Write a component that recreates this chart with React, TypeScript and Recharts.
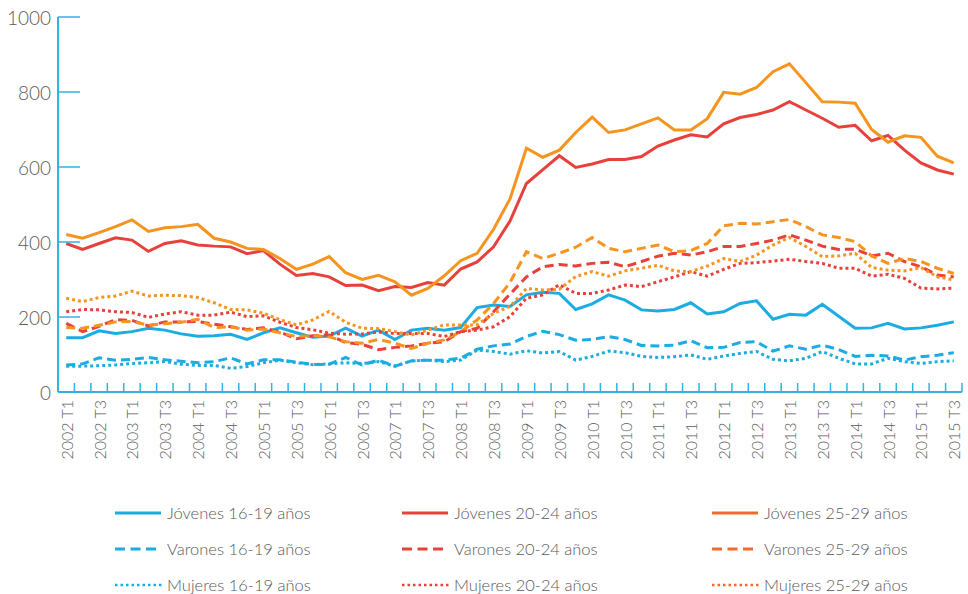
import React from 'react';
import { LineChart, Line, XAxis, YAxis } from 'recharts';

const CYAN = '#1aace3';
const RED = '#e8403a';
const ORANGE = '#f7941d';
const ORANGE_LEGEND = '#f26a2b';
const AXIS = '#33b0e4';
const TEXT = '#5a5a5a';
const FONT = "Lato, 'Open Sans', sans-serif";

const years = [2002, 2003, 2004, 2005, 2006, 2007, 2008, 2009, 2010, 2011, 2012, 2013, 2014, 2015];
const quarters = ['T1', 'T2', 'T3', 'T4'];
const periods = years.flatMap((y) => quarters.map((q) => `${y} ${q}`)).slice(0, 55);

const yTicks = [0, 200, 400, 600, 800, 1000];

const jovenes1619 = [145, 145, 163, 156, 161, 170, 165, 155, 149, 150, 154, 140, 158, 171, 158, 146, 149, 170, 149, 165, 140, 165, 170, 165, 172, 225, 232, 228, 259, 266, 263, 220, 235, 259, 245, 219, 216, 220, 238, 208, 214, 236, 243, 194, 207, 205, 234, 202, 170, 171, 183, 168, 171, 178, 187];
const jovenes2024 = [396, 380, 396, 411, 405, 375, 396, 403, 392, 389, 387, 369, 377, 341, 311, 316, 307, 284, 285, 270, 281, 279, 292, 285, 328, 347, 387, 456, 556, 593, 630, 599, 608, 620, 620, 628, 656, 672, 686, 680, 715, 732, 740, 752, 774, 752, 730, 706, 711, 670, 684, 645, 611, 592, 581];
const jovenes2529 = [420, 410, 425, 441, 459, 428, 438, 441, 447, 410, 400, 383, 380, 356, 327, 341, 361, 318, 300, 311, 294, 258, 276, 310, 350, 370, 434, 515, 650, 626, 645, 692, 733, 692, 699, 715, 731, 699, 699, 729, 799, 794, 812, 854, 875, 825, 774, 773, 770, 700, 666, 683, 679, 629, 611];
const varones1619 = [72, 75, 91, 85, 87, 92, 86, 82, 78, 81, 91, 75, 86, 86, 80, 73, 74, 92, 72, 85, 69, 83, 85, 85, 90, 114, 123, 128, 148, 162, 153, 138, 140, 148, 140, 124, 123, 125, 137, 118, 119, 132, 134, 109, 123, 114, 125, 113, 95, 98, 96, 85, 94, 98, 105];
const varones2024 = [183, 161, 175, 193, 191, 176, 187, 187, 188, 181, 174, 167, 171, 160, 142, 150, 152, 132, 127, 113, 119, 123, 130, 134, 161, 170, 214, 261, 307, 334, 340, 336, 343, 346, 334, 348, 362, 370, 365, 374, 388, 388, 396, 405, 419, 405, 389, 380, 381, 363, 370, 348, 334, 312, 307];
const varones2529 = [172, 170, 178, 187, 188, 178, 182, 186, 194, 172, 174, 165, 168, 158, 148, 151, 147, 134, 130, 140, 130, 116, 130, 139, 161, 192, 236, 292, 374, 356, 370, 386, 412, 383, 374, 383, 392, 374, 377, 396, 443, 450, 448, 454, 460, 441, 419, 412, 401, 363, 343, 356, 348, 330, 316];
const mujeres1619 = [69, 69, 70, 72, 76, 78, 81, 74, 71, 71, 63, 68, 78, 85, 78, 73, 75, 78, 76, 81, 69, 83, 85, 81, 85, 112, 108, 101, 110, 104, 108, 85, 95, 109, 105, 95, 92, 94, 99, 87, 96, 103, 108, 87, 83, 90, 108, 90, 75, 75, 90, 81, 76, 81, 83];
const mujeres2024 = [214, 220, 219, 214, 212, 199, 208, 214, 205, 205, 213, 201, 203, 186, 172, 166, 157, 154, 155, 160, 156, 156, 156, 148, 161, 165, 174, 201, 250, 259, 286, 263, 263, 272, 285, 281, 294, 307, 321, 309, 327, 343, 345, 349, 354, 348, 343, 330, 330, 309, 314, 303, 277, 275, 277];
const mujeres2529 = [250, 241, 252, 256, 269, 256, 258, 257, 252, 238, 220, 219, 210, 193, 179, 192, 215, 186, 170, 169, 161, 152, 165, 179, 179, 179, 210, 228, 276, 272, 274, 308, 321, 309, 323, 330, 338, 323, 321, 336, 356, 348, 365, 392, 412, 388, 361, 363, 370, 332, 325, 323, 332, 307, 299];

type Style = 'solid' | 'dashed' | 'dotted';
const series: { key: string; name: string; values: number[]; color: string; legendColor: string; style: Style }[] = [
  { key: 'j1619', name: 'Jóvenes 16-19 años', values: jovenes1619, color: CYAN, legendColor: CYAN, style: 'solid' },
  { key: 'j2024', name: 'Jóvenes 20-24 años', values: jovenes2024, color: RED, legendColor: RED, style: 'solid' },
  { key: 'j2529', name: 'Jóvenes 25-29 años', values: jovenes2529, color: ORANGE, legendColor: ORANGE_LEGEND, style: 'solid' },
  { key: 'v1619', name: 'Varones 16-19 años', values: varones1619, color: CYAN, legendColor: CYAN, style: 'dashed' },
  { key: 'v2024', name: 'Varones 20-24 años', values: varones2024, color: RED, legendColor: RED, style: 'dashed' },
  { key: 'v2529', name: 'Varones 25-29 años', values: varones2529, color: ORANGE, legendColor: ORANGE_LEGEND, style: 'dashed' },
  { key: 'm1619', name: 'Mujeres 16-19 años', values: mujeres1619, color: CYAN, legendColor: CYAN, style: 'dotted' },
  { key: 'm2024', name: 'Mujeres 20-24 años', values: mujeres2024, color: RED, legendColor: RED, style: 'dotted' },
  { key: 'm2529', name: 'Mujeres 25-29 años', values: mujeres2529, color: ORANGE, legendColor: ORANGE_LEGEND, style: 'dotted' },
];

const data = periods.map((p, i) => {
  const row: Record<string, number | string> = { idx: i, period: p };
  series.forEach((s) => {
    row[s.key] = s.values[i];
  });
  return row;
});

// tick marks sit on the boundaries between quarters
const boundaries = periods.map((_, i) => i - 0.5).concat([periods.length - 0.5]);

const W = 968;
const H = 594;
const MARGIN = { top: 17, right: 6, bottom: 0, left: 0 };
const Y_WIDTH = 58;
const PLOT_W = W - MARGIN.left - MARGIN.right - Y_WIDTH;
const HALF_BAND = PLOT_W / periods.length / 2;

const dashFor = (s: Style) => (s === 'dashed' ? '9 5' : s === 'dotted' ? '3 3' : undefined);

const XTick = (props: any) => {
  const { x, y, payload } = props;
  const k = payload.value + 0.5;
  const show = k % 2 === 0 && k < periods.length;
  return (
    <g>
      <line x1={x} x2={x} y1={y} y2={y - 9} stroke={AXIS} strokeWidth={1.5} />
      {show && (
        <text
          transform={`translate(${x + HALF_BAND},${y + 8}) rotate(-90)`}
          textAnchor="end"
          dominantBaseline="central"
          fontSize={16}
          fontFamily={FONT}
          fontWeight={300}
          fill={TEXT}
        >
          {periods[k]}
        </text>
      )}
    </g>
  );
};

const YTick = (props: any) => {
  const { x, y, payload } = props;
  return (
    <g>
      <line x1={x} x2={x + 22} y1={y} y2={y} stroke={AXIS} strokeWidth={1.5} />
      <text
        x={x - 7}
        y={y}
        textAnchor="end"
        dominantBaseline="central"
        fontSize={19}
        fontFamily={FONT}
        fontWeight={300}
        fill={TEXT}
      >
        {payload.value}
      </text>
    </g>
  );
};

const legendCols = [115, 402, 712];
const legendRows = [513, 549, 585];

const LegendSample = ({ color, style }: { color: string; style: Style }) => (
  <svg width={48} height={10} style={{ position: 'absolute', left: 0, top: -5 }}>
    {style === 'dotted' ? (
      <line x1={0} x2={48} y1={5} y2={5} stroke={color} strokeWidth={2.5} strokeDasharray="2.5 3" />
    ) : (
      <line x1={0} x2={46} y1={5} y2={5} stroke={color} strokeWidth={3} strokeDasharray={style === 'dashed' ? '10 5.5' : undefined} />
    )}
  </svg>
);

const App: React.FC = () => {
  return (
    <div style={{ position: 'absolute', left: 0, top: 0, width: W, height: H, background: '#fff' }}>
      <LineChart width={W} height={H} data={data} margin={MARGIN}>
        <XAxis
          dataKey="idx"
          type="number"
          domain={[-0.5, periods.length - 0.5]}
          ticks={boundaries}
          interval={0}
          tick={<XTick />}
          tickLine={false}
          tickSize={0}
          tickMargin={0}
          height={H - 392}
          axisLine={{ stroke: AXIS, strokeWidth: 2 }}
        />
        <YAxis
          type="number"
          domain={[0, 1000]}
          ticks={yTicks}
          interval={0}
          width={Y_WIDTH}
          tick={<YTick />}
          tickLine={false}
          tickSize={0}
          tickMargin={0}
          axisLine={{ stroke: AXIS, strokeWidth: 2 }}
        />
        {series.map((s) => (
          <Line
            key={s.key}
            dataKey={s.key}
            name={s.name}
            stroke={s.color}
            strokeWidth={3}
            strokeDasharray={dashFor(s.style)}
            dot={false}
            activeDot={false}
            isAnimationActive={false}
          />
        ))}
      </LineChart>
      {series.map((s, i) => (
        <div
          key={s.key}
          style={{
            position: 'absolute',
            left: legendCols[i % 3],
            top: legendRows[Math.floor(i / 3)],
            height: 0,
          }}
        >
          <LegendSample color={s.legendColor} style={s.style} />
          <span
            style={{
              position: 'absolute',
              left: 52,
              top: -11,
              whiteSpace: 'nowrap',
              fontFamily: FONT,
              fontWeight: 300,
              fontSize: 16.5,
              lineHeight: '22px',
              color: TEXT,
            }}
          >
            {s.name}
          </span>
        </div>
      ))}
    </div>
  );
};

export default App;
